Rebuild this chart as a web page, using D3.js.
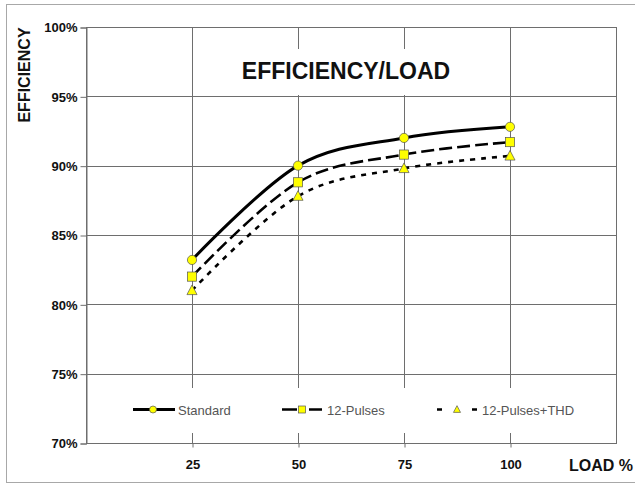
<!DOCTYPE html>
<html>
<head>
<meta charset="utf-8">
<script src="https://cdn.jsdelivr.net/npm/d3@7"></script>
<style>
  html, body { margin: 0; padding: 0; background: #fff; }
  svg { display: block; font-family: "Liberation Sans", Arial, sans-serif; }
</style>
</head>
<body>
<svg id="chart" width="635" height="484"></svg>
<script>
// ---- data ----
const loads = [25, 50, 75, 100];
const standard = [83.2, 90.0, 92.0, 92.8];
const pulses12 = [82.0, 88.8, 90.8, 91.7];
const pulses12Thd = [81.0, 87.8, 89.8, 90.7];
const seriesNames = ["Standard", "12-Pulses", "12-Pulses+THD"];
const yTicks = [70, 75, 80, 85, 90, 95, 100];
const xTicks = [25, 50, 75, 100];
const chartTitle = "EFFICIENCY/LOAD";
const yTitle = "EFFICIENCY";
const xTitle = "LOAD %";

const svg = d3.select("#chart");
const L = 86, R = 616, T = 27, B = 443;
const x = d3.scaleLinear().domain([0, 125]).range([L, R]);
const y = d3.scaleLinear().domain([70, 100]).range([B, T]);
const gridColor = "#6e6e6e";

// outer frame
svg.append("rect").attr("x", 6.5).attr("y", 4.5).attr("width", 640).attr("height", 478)
  .attr("fill", "none").attr("stroke", "#a8a8a8").attr("stroke-width", 1);

// gridlines
const grid = svg.append("g");
grid.selectAll("line.h").data(yTicks).join("line")
  .attr("x1", L).attr("x2", R)
  .attr("y1", d => Math.round(y(d)) + 0.5).attr("y2", d => Math.round(y(d)) + 0.5)
  .attr("stroke", gridColor).attr("stroke-width", 1);
grid.selectAll("line.v").data(xTicks).join("line")
  .attr("y1", T).attr("y2", B)
  .attr("x1", d => Math.round(x(d)) + 0.5).attr("x2", d => Math.round(x(d)) + 0.5)
  .attr("stroke", gridColor).attr("stroke-width", 1);

// title box (covers gridlines)
svg.append("rect").attr("x", 232).attr("y", 49).attr("width", 232).attr("height", 46)
  .attr("fill", "#fff");
svg.append("text").attr("x", 346).attr("y", 79).attr("text-anchor", "middle")
  .attr("font-size", 23).attr("font-weight", "bold").attr("fill", "#111")
  .text(chartTitle);

// legend box (covers gridlines)
svg.append("rect").attr("x", 88).attr("y", 388).attr("width", 526).attr("height", 45)
  .attr("fill", "#fff");

// plot border
svg.append("rect").attr("x", L + 0.5).attr("y", T + 0.5).attr("width", R - L).attr("height", B - T)
  .attr("fill", "none").attr("stroke", gridColor).attr("stroke-width", 1);

// axes
const yAxis = d3.axisLeft(y).tickValues(yTicks).tickFormat(d => d + "%").tickSize(6).tickPadding(3);
const gy = svg.append("g").attr("transform", `translate(${L + 0.5},0.5)`).call(yAxis);
gy.select(".domain").attr("stroke", gridColor);
gy.selectAll(".tick line").attr("stroke", gridColor);
gy.selectAll("text").attr("font-size", 13).attr("font-weight", "bold").attr("fill", "#111")
  .attr("font-family", "Liberation Sans, Arial, sans-serif");

const xAxis = d3.axisBottom(x).tickValues(xTicks).tickSize(4).tickPadding(12);
const gx = svg.append("g").attr("transform", `translate(0.5,${B + 0.5})`).call(xAxis);
gx.select(".domain").remove();
gx.selectAll(".tick line").attr("stroke", gridColor);
gx.selectAll("text").attr("font-size", 13).attr("font-weight", "bold").attr("fill", "#111")
  .attr("font-family", "Liberation Sans, Arial, sans-serif");

// axis titles
svg.append("text").attr("transform", "translate(30,75) rotate(-90)").attr("text-anchor", "middle")
  .attr("font-size", 16).attr("font-weight", "bold").attr("fill", "#111").text(yTitle);
svg.append("text").attr("x", 633).attr("y", 471).attr("text-anchor", "end")
  .attr("font-size", 16).attr("font-weight", "bold").attr("fill", "#111").text(xTitle);

// series
const seriesData = [standard, pulses12, pulses12Thd];
const styles = [
  { dash: null, width: 3, marker: "circle" },
  { dash: "13,5", width: 2.6, marker: "square" },
  { dash: "5,6", width: 2.6, marker: "triangle" }
];
const line = d3.line().x(d => x(d[0])).y(d => y(d[1])).curve(d3.curveCatmullRom.alpha(0));

function drawMarker(g, type, cx, cy, s) {
  if (type === "circle") {
    g.append("circle").attr("cx", cx).attr("cy", cy).attr("r", s)
      .attr("fill", "#ffff00").attr("stroke", "#555").attr("stroke-width", 0.7);
  } else if (type === "square") {
    g.append("rect").attr("x", cx - s).attr("y", cy - s).attr("width", 2 * s).attr("height", 2 * s)
      .attr("fill", "#ffff00").attr("stroke", "#555").attr("stroke-width", 0.7);
  } else {
    const h = s * 2;
    g.append("path")
      .attr("d", `M${cx},${cy - h * 0.6}L${cx + s * 1.1},${cy + h * 0.45}L${cx - s * 1.1},${cy + h * 0.45}Z`)
      .attr("fill", "#ffff00").attr("stroke", "#555").attr("stroke-width", 0.7);
  }
}

seriesData.forEach((vals, i) => {
  const pts = loads.map((l, j) => [l, vals[j]]);
  const p = svg.append("path").datum(pts).attr("d", line)
    .attr("fill", "none").attr("stroke", "#000").attr("stroke-width", styles[i].width);
  if (styles[i].dash) p.attr("stroke-dasharray", styles[i].dash);
  const g = svg.append("g");
  pts.forEach(d => drawMarker(g, styles[i].marker, x(d[0]), y(d[1]), 4.6));
});

// legend
const legX = [133, 282, 437];
const legY = 409.5;
seriesNames.forEach((name, i) => {
  const g = svg.append("g");
  const ln = g.append("line").attr("x1", legX[i]).attr("x2", legX[i] + 42)
    .attr("y1", legY).attr("y2", legY).attr("stroke", "#000").attr("stroke-width", styles[i].width);
  if (i === 1) ln.attr("stroke-dasharray", "15,6,0,6,13");
  if (i === 2) ln.attr("stroke-dasharray", "5,13,0,17,5");
  drawMarker(g, styles[i].marker, legX[i] + 20, legY, i === 2 ? 3.2 : 3.5);
  g.append("text").attr("x", legX[i] + 45).attr("y", legY + 5)
    .attr("font-size", 13).attr("fill", "#555").text(name);
});
</script>
</body>
</html>
